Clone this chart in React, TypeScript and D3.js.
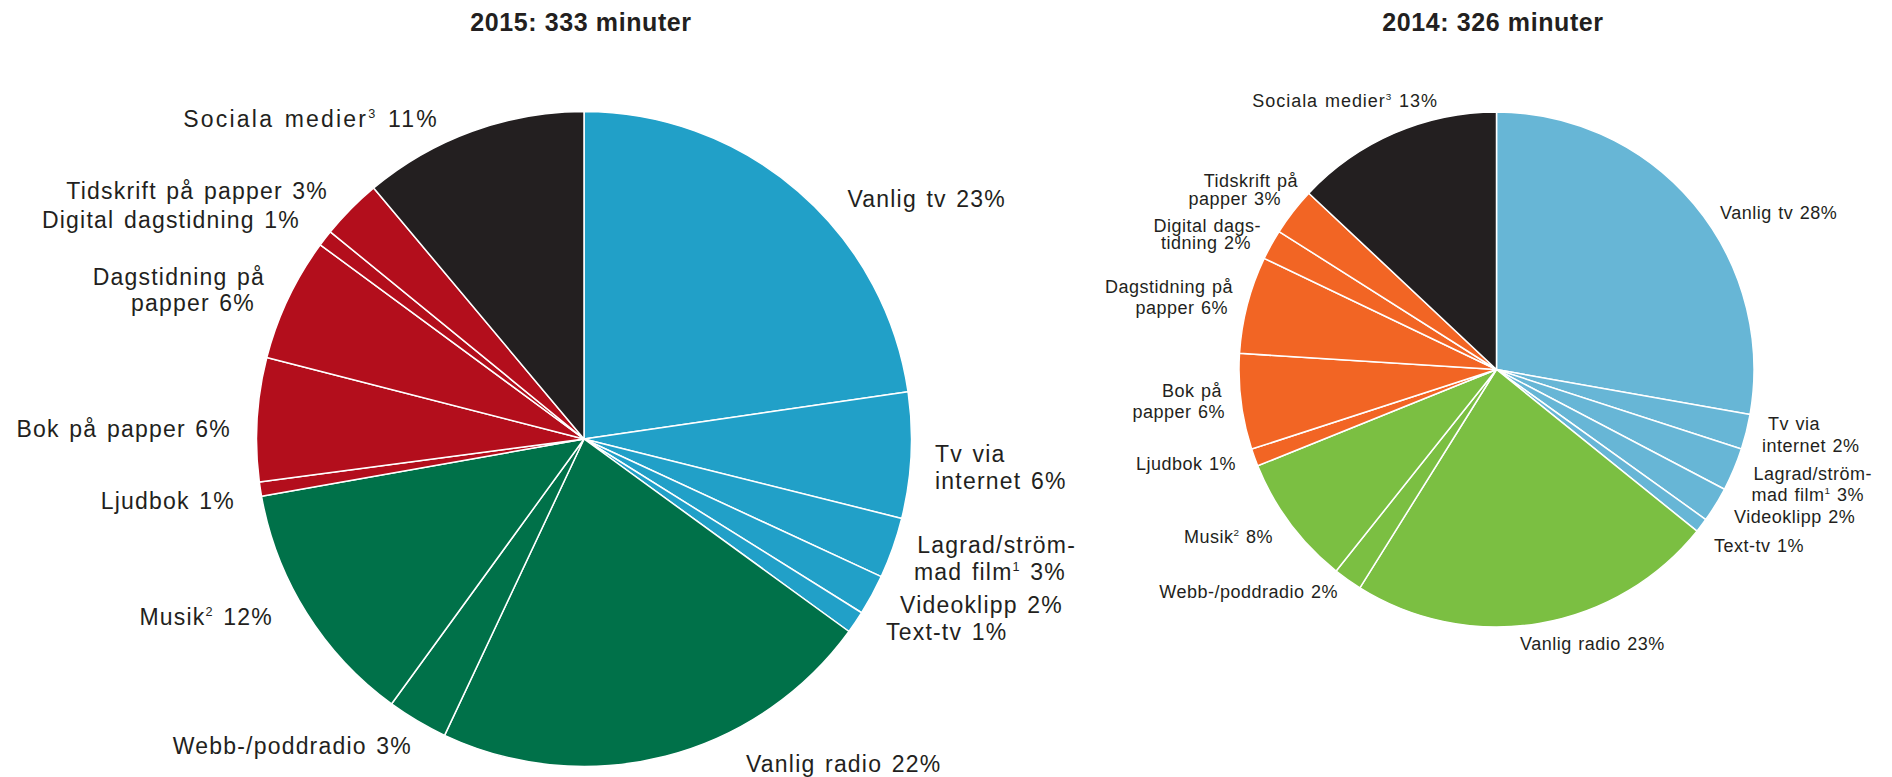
import React from "react";
import * as d3 from "d3";

// ---------- data ----------
const categories = [
  "Vanlig tv",
  "Tv via internet",
  "Lagrad/strömmad film",
  "Videoklipp",
  "Text-tv",
  "Vanlig radio",
  "Webb-/poddradio",
  "Musik",
  "Ljudbok",
  "Bok på papper",
  "Dagstidning på papper",
  "Digital dagstidning",
  "Tidskrift på papper",
  "Sociala medier",
];
const groups = ["tv", "tv", "tv", "tv", "tv", "radio", "radio", "radio", "print", "print", "print", "print", "print", "social"];

const values2015 = [22.7, 6.2, 3.0, 2.0, 1.1, 22.0, 3.0, 12.2, 0.7, 6.1, 6.1, 0.8, 3.0, 11.1];
const values2014 = [27.8, 2.2, 2.7, 2.2, 0.9, 23.1, 1.8, 8.2, 1.1, 6.0, 6.1, 1.9, 3.0, 13.0];

const labels2015 = [
  ["Vanlig tv 23%"],
  ["Tv via", "internet 6%"],
  ["Lagrad/ström-", "mad film¹ 3%"],
  ["Videoklipp 2%"],
  ["Text-tv 1%"],
  ["Vanlig radio 22%"],
  ["Webb-/poddradio 3%"],
  ["Musik² 12%"],
  ["Ljudbok 1%"],
  ["Bok på papper 6%"],
  ["Dagstidning på", "papper 6%"],
  ["Digital dagstidning 1%"],
  ["Tidskrift på papper 3%"],
  ["Sociala medier³ 11%"],
];
const labels2014 = [
  ["Vanlig tv 28%"],
  ["Tv via", "internet 2%"],
  ["Lagrad/ström-", "mad film¹ 3%"],
  ["Videoklipp 2%"],
  ["Text-tv 1%"],
  ["Vanlig radio 23%"],
  ["Webb-/poddradio 2%"],
  ["Musik² 8%"],
  ["Ljudbok 1%"],
  ["Bok på", "papper 6%"],
  ["Dagstidning på", "papper 6%"],
  ["Digital dags-", "tidning 2%"],
  ["Tidskrift på", "papper 3%"],
  ["Sociala medier³ 13%"],
];

const title2015 = "2015: 333 minuter";
const title2014 = "2014: 326 minuter";

// ---------- styles / layout ----------
const colors2015: Record<string, string> = { tv: "#21a0c8", radio: "#007149", print: "#b30e1c", social: "#231f20" };
const colors2014: Record<string, string> = { tv: "#67b6d6", radio: "#7bbf42", print: "#f26524", social: "#231f20" };

// [x, baseline y, anchor, extra letter spacing]
type Line = [number, number, "start" | "end", number?];
const layout2015: Line[][] = [
  [[1006, 207, "end"]],
  [[935, 462, "start"], [935, 489, "start"]],
  [[1076, 553, "end"], [1066, 580, "end"]],
  [[900, 613, "start"]],
  [[886, 640, "start"]],
  [[746, 772, "start"]],
  [[412, 754, "end"]],
  [[273, 625, "end"]],
  [[235, 509, "end"]],
  [[231, 437, "end"]],
  [[265, 285, "end"], [255, 311, "end"]],
  [[300, 228, "end"]],
  [[328, 199, "end"]],
  [[439, 127, "end", 1.0]],
];
const layout2014: Line[][] = [
  [[1720, 219, "start"]],
  [[1768, 430, "start"], [1762, 452, "start"]],
  [[1872, 480, "end"], [1864, 501, "end"]],
  [[1734, 523, "start"]],
  [[1714, 552, "start"]],
  [[1520, 650, "start"]],
  [[1338, 598, "end"]],
  [[1273, 543, "end"]],
  [[1236, 470, "end"]],
  [[1222, 397, "end"], [1225, 418, "end"]],
  [[1233, 293, "end"], [1228, 314, "end"]],
  [[1261, 232, "end"], [1251, 249, "end"]],
  [[1298, 187, "end"], [1281, 205, "end"]],
  [[1438, 107, "end", 0.45]],
];

const W = 1892;
const H = 777;
const FONT = "'Liberation Sans', Arial, Helvetica, sans-serif";
const TEXT = "#231f20";
const SUP: Record<string, string> = { "¹": "1", "²": "2", "³": "3" };

function renderText(s: string, fs: number) {
  // superscript digits become small raised tspans; next run drops back down
  const parts: React.ReactNode[] = [];
  let buf = "";
  let k = 0;
  let pending = 0;
  const raise = fs * 0.38;
  const flush = () => {
    if (buf) {
      parts.push(
        <tspan key={k++} dy={pending || undefined}>
          {buf}
        </tspan>
      );
      pending = 0;
    }
    buf = "";
  };
  for (const ch of s) {
    if (SUP[ch]) {
      flush();
      parts.push(
        <tspan key={k++} fontSize={fs * 0.55} dy={-raise}>
          {SUP[ch]}
        </tspan>
      );
      pending = raise;
    } else buf += ch;
  }
  flush();
  return parts;
}

function Pie(props: {
  cx: number;
  cy: number;
  r: number;
  values: number[];
  colors: Record<string, string>;
  labels: string[][];
  layout: Line[][];
  fs: number;
  ls: number;
  ws: number;
  title: string;
  titleX: number;
}) {
  const { cx, cy, r, values, colors, labels, layout, fs, ls, ws, title, titleX } = props;
  const pie = d3.pie<number>().sort(null).value((d) => d);
  const arcs = pie(values);
  const arc = d3.arc<d3.PieArcDatum<number>>().innerRadius(0).outerRadius(r);
  return (
    <g>
      <text
        x={titleX}
        y={31}
        textAnchor="middle"
        fontFamily={FONT}
        fontWeight="bold"
        fontSize={25}
        letterSpacing={0.6}
        fill={TEXT}
      >
        {title}
      </text>
      <g transform={`translate(${cx},${cy})`}>
        {arcs.map((a, i) => (
          <path
            key={categories[i]}
            d={arc(a) || ""}
            fill={colors[groups[i]]}
            stroke="#ffffff"
            strokeWidth={1.5}
            strokeLinejoin="round"
          />
        ))}
      </g>
      {labels.map((lines, i) =>
        lines.map((ln, j) => {
          const [x, y, anchor, extra] = layout[i][j];
          return (
            <text
              key={`${i}-${j}`}
              x={x}
              y={y}
              textAnchor={anchor}
              fontFamily={FONT}
              fontSize={fs}
              letterSpacing={ls + (extra || 0)}
              wordSpacing={ws}
              fill={TEXT}
            >
              {renderText(ln, fs)}
            </text>
          );
        })
      )}
    </g>
  );
}

export default function App() {
  return (
    <svg
      width={W}
      height={H}
      viewBox={`0 0 ${W} ${H}`}
      style={{ position: "absolute", left: 0, top: 0, background: "#ffffff" }}
    >
      <rect x={0} y={0} width={W} height={H} fill="#ffffff" />
      <Pie
        cx={584}
        cy={439}
        r={327.5}
        values={values2015}
        colors={colors2015}
        labels={labels2015}
        layout={layout2015}
        fs={23}
        ls={1.2}
        ws={2}
        title={title2015}
        titleX={581}
      />
      <Pie
        cx={1496.5}
        cy={369.5}
        r={257.5}
        values={values2014}
        colors={colors2014}
        labels={labels2014}
        layout={layout2014}
        fs={18}
        ls={0.5}
        ws={1}
        title={title2014}
        titleX={1493}
      />
    </svg>
  );
}
